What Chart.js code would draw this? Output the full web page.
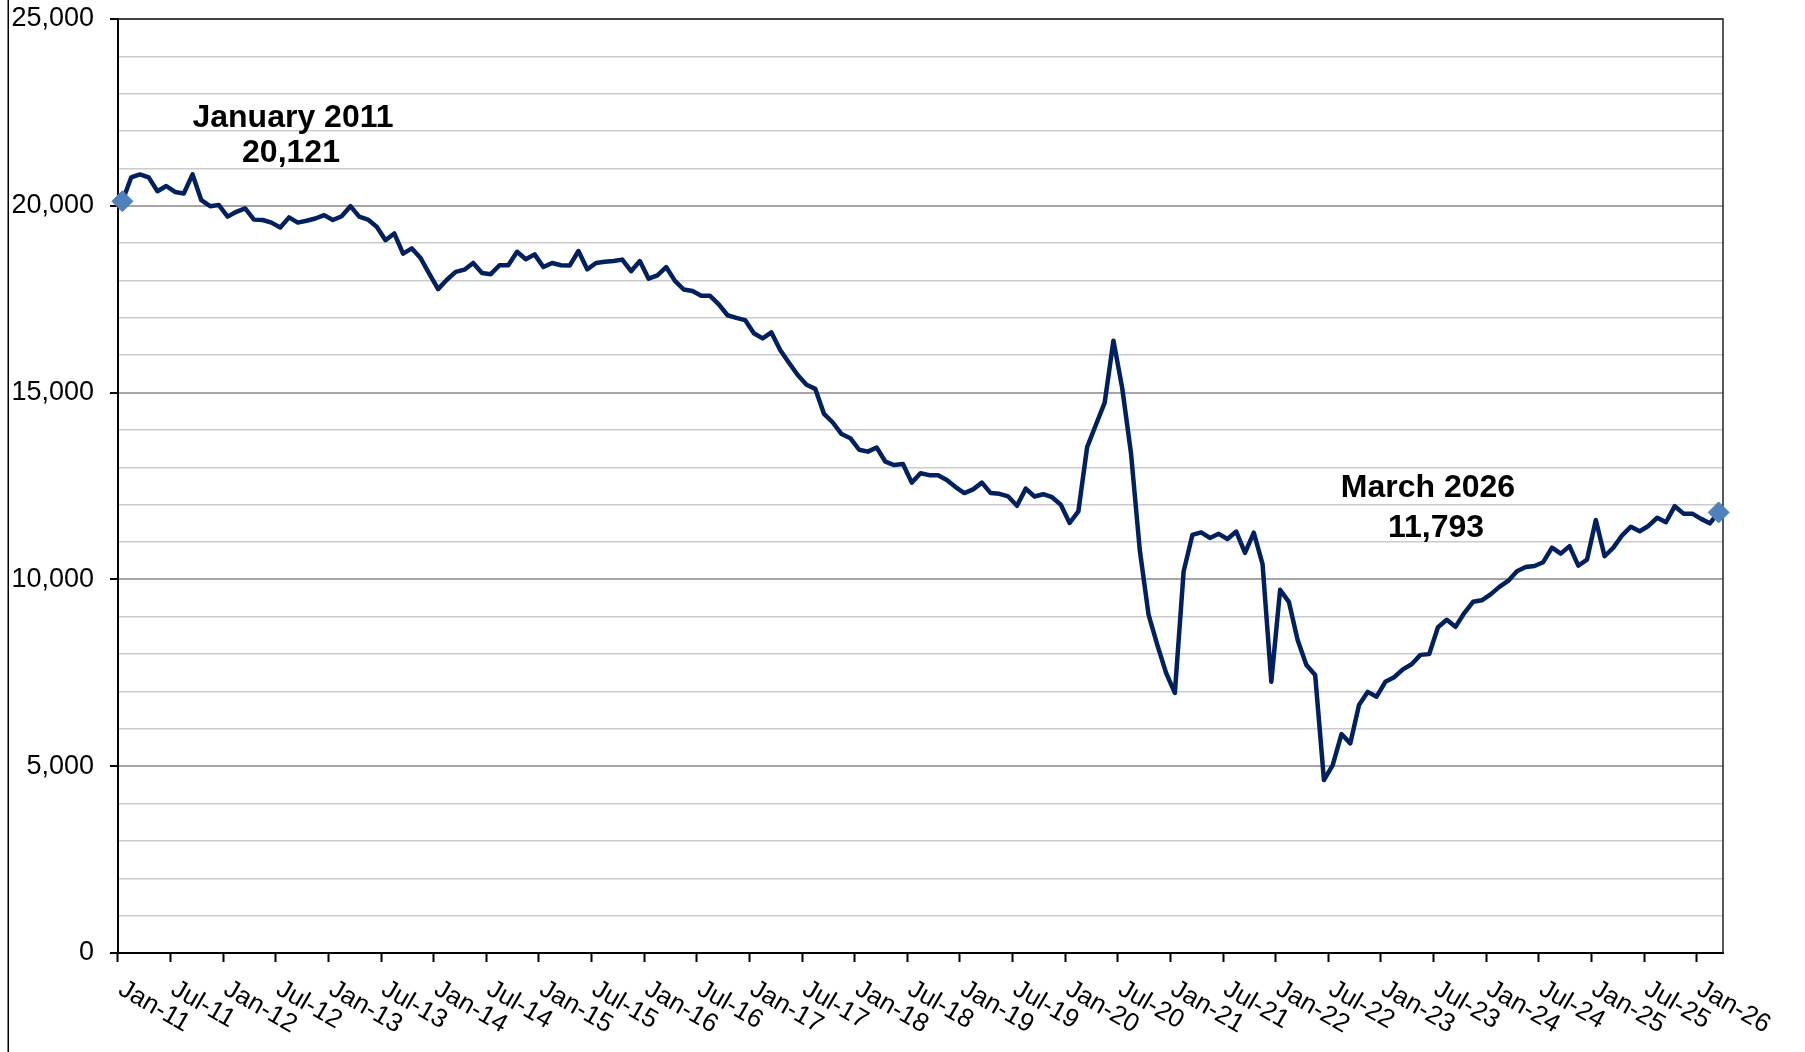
<!DOCTYPE html>
<html>
<head>
<meta charset="utf-8">
<script src="https://cdn.jsdelivr.net/npm/chart.js@4.4.1/dist/chart.umd.min.js"></script>
<style>
  html, body { margin: 0; padding: 0; background: #fff; overflow: hidden; }
  #wrap { position: relative; width: 1805px; height: 1052px; }
</style>
</head>
<body>
<div id="wrap"><canvas id="count-chart"></canvas></div>
<script>
var monthShort = ['Jan', 'Feb', 'Mar', 'Apr', 'May', 'Jun', 'Jul', 'Aug', 'Sep', 'Oct', 'Nov', 'Dec'];
var monthLong = ['January', 'February', 'March', 'April', 'May', 'June',
  'July', 'August', 'September', 'October', 'November', 'December'];
var startYear = 2011;

// monthly values, Jan 2011 .. Mar 2026
var values = [
  20121, 20760, 20840, 20760, 20390, 20530, 20370, 20330, 20840, 20150, 19990, 20020, // 2011
  19710, 19840, 19930, 19630, 19620, 19550, 19420, 19690, 19550, 19600, 19660, 19750, // 2012
  19620, 19720, 19990, 19710, 19630, 19440, 19080, 19260, 18720, 18860, 18600, 18180, // 2013
  17770, 18020, 18230, 18290, 18470, 18200, 18170, 18410, 18410, 18770, 18570, 18700, // 2014
  18360, 18470, 18410, 18400, 18790, 18300, 18470, 18500, 18520, 18560, 18250, 18520, // 2015
  18050, 18140, 18360, 17990, 17760, 17720, 17590, 17590, 17360, 17070, 17000, 16940, // 2016
  16590, 16450, 16610, 16140, 15800, 15470, 15210, 15100, 14430, 14200, 13890, 13780, // 2017
  13470, 13420, 13530, 13150, 13060, 13090, 12590, 12840, 12790, 12790, 12660, 12470, // 2018
  12310, 12410, 12590, 12310, 12290, 12220, 11970, 12430, 12220, 12280, 12200, 12000, // 2019
  11510, 11820, 13540, 14140, 14730, 16390, 15120, 13380, 10790, 9060, 8250, 7500,    // 2020
  6960, 10210, 11190, 11260, 11110, 11220, 11080, 11280, 10710, 11250, 10410, 7260,   // 2021
  9720, 9400, 8380, 7710, 7440, 4630, 5030, 5860, 5610, 6640, 6990, 6860,             // 2022
  7260, 7380, 7590, 7730, 7980, 8000, 8720, 8920, 8730, 9100, 9400, 9440,             // 2023
  9600, 9800, 9960, 10220, 10330, 10360, 10460, 10850, 10690, 10890, 10370, 10530,    // 2024
  11590, 10620, 10850, 11180, 11410, 11290, 11430, 11650, 11530, 11960, 11760, 11760, // 2025
  11620, 11500, 11793                                                                // 2026
];

var labels = [];
var fullLabels = [];
for (var i = 0; i < values.length; i++) {
  var y = startYear + Math.floor(i / 12);
  labels.push(monthShort[i % 12] + '-' + String(y).slice(2));
  fullLabels.push(monthLong[i % 12] + ' ' + y);
}

var lastIdx = values.length - 1;
var fontFamily = '"Liberation Sans", Arial, Helvetica, sans-serif';

var framePlugin = {
  id: 'frame',
  beforeDraw: function(chart) {
    var ctx = chart.ctx;
    ctx.save();
    ctx.fillStyle = '#ffffff';
    ctx.fillRect(0, 0, chart.width, chart.height);
    ctx.fillStyle = '#000000';
    ctx.fillRect(7.5, 0, 1.5, chart.height);
    ctx.restore();
  },
  beforeDatasetsDraw: function(chart) {
    var ctx = chart.ctx, a = chart.chartArea;
    ctx.save();
    ctx.strokeStyle = '#222222';
    ctx.lineWidth = 1.5;
    ctx.beginPath();
    ctx.moveTo(a.left, a.top);
    ctx.lineTo(a.right, a.top);
    ctx.lineTo(a.right, a.bottom);
    ctx.stroke();
    ctx.restore();
  },
  afterDraw: function(chart) {
    var ctx = chart.ctx;
    var xs = chart.scales.x;
    var step = xs.getPixelForValue(1) - xs.getPixelForValue(0);

    // slanted month labels every 6 months
    ctx.save();
    ctx.fillStyle = '#000000';
    ctx.font = '26px ' + fontFamily;
    ctx.textAlign = 'left';
    ctx.textBaseline = 'top';
    for (var i = 0; i < labels.length; i += 6) {
      var x = xs.getPixelForValue(i) - step / 2;
      ctx.save();
      ctx.translate(x + 9, xs.top + 23);
      ctx.rotate(30 * Math.PI / 180);
      ctx.fillText(labels[i], 0, 0);
      ctx.restore();
    }
    ctx.restore();

    // first / last value notes
    ctx.save();
    ctx.fillStyle = '#000000';
    ctx.font = 'bold 32px ' + fontFamily;
    ctx.textAlign = 'center';
    ctx.textBaseline = 'alphabetic';
    ctx.fillText(fullLabels[0], 293, 127);
    ctx.fillText(values[0].toLocaleString('en-US'), 291, 162);
    ctx.fillText(fullLabels[lastIdx], 1428, 497);
    ctx.fillText(values[lastIdx].toLocaleString('en-US'), 1436, 537);
    ctx.restore();
  }
};

var ctx = document.getElementById('count-chart').getContext('2d');
var chart = new Chart(ctx, {
  type: 'line',
  data: {
    labels: labels,
    datasets: [{
      data: values,
      borderColor: '#002060',
      borderWidth: 4.5,
      borderJoinStyle: 'round',
      borderCapStyle: 'round',
      tension: 0,
      fill: false,
      clip: false,
      pointStyle: 'rectRot',
      pointRadius: function(c) { return (c.dataIndex === 0 || c.dataIndex === lastIdx) ? 10.5 : 0; },
      pointHoverRadius: 0,
      pointBackgroundColor: '#4F81BD',
      pointBorderColor: '#4F81BD',
      pointBorderWidth: 1
    }]
  },
  options: {
    responsive: true,
    maintainAspectRatio: false,
    animation: false,
    layout: { padding: { top: 19, right: 82, left: 0, bottom: 0 } },
    plugins: {
      legend: { display: false },
      tooltip: { enabled: false },
      title: { display: false }
    },
    scales: {
      x: {
        type: 'category',
        offset: true,
        border: { display: true, color: '#000000', width: 2 },
        grid: {
          offset: true,
          drawOnChartArea: false,
          drawTicks: true,
          tickLength: 9,
          tickWidth: 2,
          tickColor: function(c) { return c.index % 6 === 0 ? '#000000' : 'rgba(0,0,0,0)'; }
        },
        ticks: { display: false, autoSkip: false },
        afterFit: function(scale) {
          scale.height = 99;
          scale.paddingLeft = 0;
          scale.paddingRight = 0;
        }
      },
      y: {
        min: 0,
        max: 25000,
        border: { display: true, color: '#000000', width: 2 },
        grid: {
          color: function(c) { return c.tick && c.tick.value % 5000 === 0 ? '#a6a6a6' : '#cbcbcb'; },
          lineWidth: function(c) { return c.tick && c.tick.value % 5000 === 0 ? 2 : 1.5; },
          tickLength: 8,
          tickWidth: 2,
          tickColor: function(c) { return c.tick && c.tick.value % 5000 === 0 ? '#000000' : 'rgba(0,0,0,0)'; }
        },
        ticks: {
          stepSize: 1000,
          autoSkip: false,
          padding: 16,
          color: '#000000',
          font: { size: 27, family: fontFamily },
          callback: function(v) { return v % 5000 === 0 ? v.toLocaleString('en-US') : ''; }
        },
        afterFit: function(scale) {
          scale.width = 118;
          scale.paddingTop = 0;
          scale.paddingBottom = 0;
        }
      }
    }
  },
  plugins: [framePlugin]
});
</script>
</body>
</html>
